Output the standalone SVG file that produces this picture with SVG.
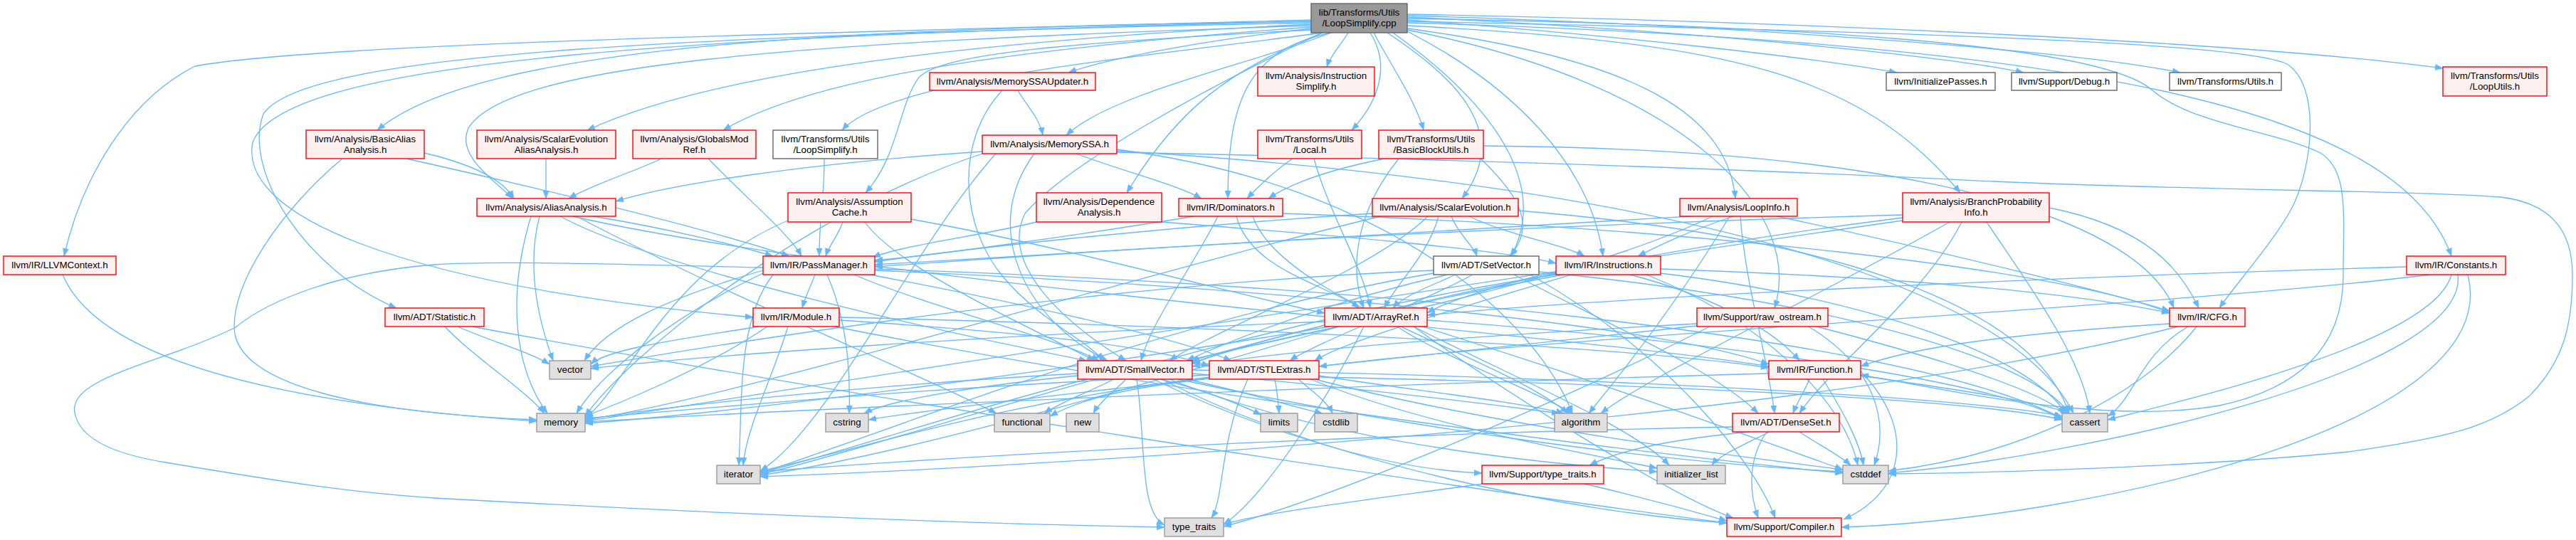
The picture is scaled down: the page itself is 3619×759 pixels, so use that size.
<svg xmlns="http://www.w3.org/2000/svg" width="3619" height="759" viewBox="0 0 3619 759">
<style>
.e path{fill:none;stroke:#63B8FF;stroke-width:1.3;marker-end:url(#a)}
.n rect{stroke-width:1.4}
.r rect{fill:#FFF0F0;stroke:#FF0000}
.w rect{fill:#FFFFFF;stroke:#666666}
.g rect{fill:#E0E0E0;stroke:#999999}
.root rect{fill:#999999;stroke:#666666}
text{font-family:"Liberation Sans",Arial,sans-serif;font-size:13.33px;text-anchor:middle;fill:#000000}
</style>
<defs>
<marker id="a" markerUnits="userSpaceOnUse" markerWidth="12" markerHeight="9" refX="11" refY="4.5" orient="auto"><path d="M0,0.3 L11,4.5 L0,8.7 z" fill="#63B8FF" stroke="#63B8FF" stroke-width="0.5"/></marker>
</defs>
<rect width="3619" height="759" fill="#FFFFFF"/>
<g id="edges" class="e">
<path d="M1842,40 C1706,55 1563,80 1501,102"/>
<path d="M1894,46 C1885,62 1870,76 1864,94"/>
<path d="M1977,28 C2275,50 2538,80 2665,102"/>
<path d="M1977,24 C2325,40 2713,75 2843,102"/>
<path d="M1977,22 C2425,35 2910,70 3063,102"/>
<path d="M1977,20 C2525,30 3167,60 3432,96"/>
<path d="M1842,30 C1206,40 675,60 530,183"/>
<path d="M1842,34 C1306,60 982,110 825,183"/>
<path d="M1842,38 C1406,70 1139,110 1016,183"/>
<path d="M1858,46 C1608,80 1248,110 1183,183"/>
<path d="M1870,46 C1760,90 1563,130 1498,190"/>
<path d="M1925,46 C1953,90 1939,140 1899,183"/>
<path d="M1930,46 C1953,90 1988,140 2000,183"/>
<path d="M1842,36 C1106,60 715,90 658,180 C640,220 697,255 720,279"/>
<path d="M1842,42 C1500,60 1320,75 1290,110 C1262,150 1262,220 1216,271"/>
<path d="M1858,46 C1720,100 1650,160 1583,271"/>
<path d="M1870,46 C1760,70 1725,130 1725,279"/>
<path d="M1949,46 C2030,100 2130,180 2054,279"/>
<path d="M1977,40 C2275,80 2426,150 2438,279"/>
<path d="M1977,36 C2425,60 2611,100 2754,271"/>
<path d="M1842,28 C1206,45 450,60 274,93 C180,140 115,250 90,360"/>
<path d="M1957,46 C2102,150 2176,260 2123,360"/>
<path d="M1977,44 C2125,120 2234,230 2252,360"/>
<path d="M1977,32 C2925,60 3369,150 3444,360"/>
<path d="M1842,32 C1006,50 430,70 370,160 C340,240 430,380 557,433"/>
<path d="M1842,30 C1006,50 400,80 355,200 C335,300 550,400 1058,446"/>
<path d="M1977,42 C2375,120 2535,300 2493,433"/>
<path d="M1977,30 C2700,45 3150,60 3213,90 C3260,120 3250,230 3221,290 C3195,340 3140,400 3118,433"/>
<path d="M1858,46 C1700,120 1500,230 1440,300 C1400,380 1520,470 1582,507"/>
<path d="M1977,26 C2500,35 2950,60 3024,127 C3080,175 3200,185 3260,215 C3300,240 3292,300 3292,387 C3292,460 3260,540 3118,570 C2950,600 2700,540 2614,527"/>
<path d="M1158,223 C1158,285 1151,298 1151,360"/>
<path d="M596,215 C660,230 705,250 722,279"/>
<path d="M571,223 C781,270 989,320 1109,360"/>
<path d="M481,223 C400,290 320,400 330,470 C345,540 500,580 754,590"/>
<path d="M767,223 C767,250 767,252 767,279"/>
<path d="M929,223 C895,240 830,260 799,279"/>
<path d="M995,223 C1050,280 1110,330 1126,360"/>
<path d="M787,304 C927,380 1340,470 1527,507"/>
<path d="M804,304 C1229,400 2212,470 2485,515"/>
<path d="M833,304 C933,320 1036,345 1086,360"/>
<path d="M810,304 C1030,420 1280,520 1400,581"/>
<path d="M746,304 C711,420 724,520 769,581"/>
<path d="M758,304 C738,380 760,460 777,507"/>
<path d="M1280,308 C1512,350 1758,420 1861,440"/>
<path d="M1215,312 C1263,380 1468,470 1538,507"/>
<path d="M1184,312 C1178,330 1165,345 1160,360"/>
<path d="M1107,310 C938,380 882,540 822,588"/>
<path d="M1430,127 C1443,150 1460,165 1465,190"/>
<path d="M1408,127 C1340,200 1350,320 1410,390 C1460,450 1530,480 1550,507"/>
<path d="M1380,213 C1126,230 938,260 865,283"/>
<path d="M1380,216 C1126,300 882,500 822,585"/>
<path d="M1399,216 C1279,350 1167,600 1068,662"/>
<path d="M1453,216 C1376,320 1440,450 1556,507"/>
<path d="M1512,216 C1575,240 1655,260 1688,279"/>
<path d="M1569,210 C1953,260 2159,450 2209,581"/>
<path d="M1569,212 C2353,260 2823,400 2913,581"/>
<path d="M1569,214 C2100,225 2500,240 2800,255 C3100,268 3400,268 3513,277 C3580,285 3614,320 3614,387 C3614,460 3600,510 3553,557 C3500,600 3440,615 3300,635 C3100,655 2800,665 2653,666"/>
<path d="M1456,312 C1387,330 1264,345 1226,362"/>
<path d="M1632,312 C1862,330 2105,350 2186,370"/>
<path d="M1678,304 C1518,330 1304,360 1229,366"/>
<path d="M1711,304 C1673,380 1618,450 1603,507"/>
<path d="M1737,304 C1757,380 1865,400 1910,433"/>
<path d="M1760,304 C1800,420 2108,500 2203,581"/>
<path d="M1802,300 C2386,320 2908,380 3048,440"/>
<path d="M1928,300 C1618,320 1354,350 1229,368"/>
<path d="M1940,304 C1620,380 1032,560 822,590"/>
<path d="M2006,304 C1929,380 1713,460 1643,507"/>
<path d="M2021,304 C2006,360 1960,400 1945,433"/>
<path d="M2039,304 C2049,330 2070,345 2075,360"/>
<path d="M2064,304 C2117,330 2201,345 2226,360"/>
<path d="M2133,296 C2547,330 2852,420 2907,581"/>
<path d="M2377,304 C1897,330 1404,360 1229,372"/>
<path d="M2406,304 C2206,400 1817,470 1667,507"/>
<path d="M2435,304 C2360,330 2331,345 2301,360"/>
<path d="M2445,304 C2452,400 2483,500 2493,581"/>
<path d="M2496,304 C2714,350 2958,410 3048,437"/>
<path d="M2430,304 C2360,420 2282,520 2232,581"/>
<path d="M2673,302 C2039,320 1504,355 1229,375"/>
<path d="M2756,312 C2701,420 2568,520 2528,581"/>
<path d="M2739,312 C2549,420 2314,530 2249,581"/>
<path d="M2673,306 C2239,360 1820,460 1675,510"/>
<path d="M2879,292 C3019,320 3064,380 3089,433"/>
<path d="M2791,312 C2836,380 2926,500 2936,581"/>
<path d="M2673,310 C2039,400 1032,560 822,592"/>
<path d="M1846,223 C1867,300 1917,380 1925,433"/>
<path d="M1816,223 C1790,240 1770,260 1752,279"/>
<path d="M1945,223 C1860,240 1810,260 1782,279"/>
<path d="M1965,223 C1903,300 1896,380 1916,433"/>
<path d="M2080,223 C2140,280 2156,320 2121,360"/>
<path d="M2084,205 C2741,210 3009,320 3054,433"/>
<path d="M1145,386 C1140,400 1132,415 1127,433"/>
<path d="M1162,386 C1190,450 1195,520 1193,581"/>
<path d="M1072,380 C934,420 851,460 821,507"/>
<path d="M1072,384 C934,450 840,530 810,581"/>
<path d="M1086,386 C1036,450 1043,560 1038,654"/>
<path d="M1200,386 C1300,430 1499,480 1544,507"/>
<path d="M1222,386 C1402,420 1640,470 1730,507"/>
<path d="M1229,380 C1704,400 2312,450 2485,512"/>
<path d="M1229,378 C1904,400 2671,470 2897,588"/>
<path d="M1072,376 C880,372 700,366 610,372 C480,382 380,420 331,460 C230,510 95,530 105,580 C112,620 170,640 233,650 C400,678 500,693 610,700 C900,716 1300,735 1636,741"/>
<path d="M1066,459 C966,475 853,490 830,512"/>
<path d="M1078,459 C988,520 862,570 822,585"/>
<path d="M1107,459 C1082,540 1049,600 1044,654"/>
<path d="M1179,450 C1483,470 1635,490 1699,515"/>
<path d="M1179,446 C1783,460 2312,490 2485,517"/>
<path d="M1172,459 C1682,560 2327,640 2589,665"/>
<path d="M2045,386 C2015,400 1972,415 1957,433"/>
<path d="M2127,386 C2247,450 2410,520 2470,581"/>
<path d="M2069,386 C1989,430 1852,480 1812,507"/>
<path d="M2034,386 C1884,420 1747,470 1667,507"/>
<path d="M2150,386 C2350,500 2464,650 2494,728"/>
<path d="M2162,382 C2552,420 2852,500 2907,581"/>
<path d="M2014,384 C1631,450 1267,600 1068,665"/>
<path d="M2014,380 C1531,400 1033,480 830,515"/>
<path d="M2186,382 C2105,400 2029,425 2005,440"/>
<path d="M2208,386 C2058,430 1887,480 1847,507"/>
<path d="M2196,386 C1956,430 1768,480 1673,507"/>
<path d="M2333,378 C2676,390 2908,410 3048,440"/>
<path d="M2290,386 C2420,420 2498,470 2528,507"/>
<path d="M2333,384 C2626,420 2852,500 2902,581"/>
<path d="M2313,386 C2473,450 2590,560 2610,654"/>
<path d="M2186,386 C1755,450 1267,620 1068,667"/>
<path d="M3381,375 C2859,390 2229,420 2005,443"/>
<path d="M3414,386 C3064,430 2208,470 1853,515"/>
<path d="M3444,386 C3419,480 3080,560 2961,590"/>
<path d="M3453,386 C3470,520 2936,640 2653,665"/>
<path d="M3467,386 C3522,600 2927,730 2587,741"/>
<path d="M625,459 C663,500 740,550 765,581"/>
<path d="M643,459 C690,480 745,495 772,512"/>
<path d="M663,459 C1208,560 2004,680 2426,735"/>
<path d="M1881,459 C1761,485 1708,495 1675,512"/>
<path d="M1861,452 C1408,470 983,500 830,518"/>
<path d="M1869,459 C1509,520 1032,580 822,595"/>
<path d="M1881,459 C1611,540 1267,640 1068,668"/>
<path d="M1986,459 C2126,560 2355,700 2435,728"/>
<path d="M1963,459 C2023,500 2159,550 2209,581"/>
<path d="M2005,450 C2429,480 2821,540 2897,590"/>
<path d="M1998,459 C2228,530 2477,620 2589,660"/>
<path d="M1986,459 C2126,530 2295,600 2345,654"/>
<path d="M1916,459 C1866,560 1775,700 1719,737"/>
<path d="M2384,455 C2102,470 1818,490 1675,515"/>
<path d="M2552,459 C2672,490 2852,540 2902,581"/>
<path d="M2541,459 C2641,520 2653,600 2633,654"/>
<path d="M2384,458 C2002,500 1403,560 1220,590"/>
<path d="M2402,459 C2202,560 1875,700 1719,740"/>
<path d="M3048,455 C2808,470 2681,490 2614,515"/>
<path d="M3074,459 C3004,500 3000,560 2961,585"/>
<path d="M3086,459 C3006,560 2836,640 2653,662"/>
<path d="M3060,459 C2510,600 1367,660 1068,670"/>
<path d="M88,386 C123,470 272,560 754,592"/>
<path d="M1565,533 C1532,550 1490,565 1467,581"/>
<path d="M1582,533 C1565,550 1545,565 1536,581"/>
<path d="M1630,533 C1700,550 1745,570 1772,583"/>
<path d="M1514,528 C1395,540 1254,560 1214,581"/>
<path d="M1514,525 C1245,540 932,570 822,590"/>
<path d="M1527,533 C1347,580 1167,640 1068,665"/>
<path d="M1632,533 C1862,650 2204,720 2426,735"/>
<path d="M1620,533 C1760,600 1940,660 2082,665"/>
<path d="M1675,525 C1918,545 2106,570 2191,581"/>
<path d="M1675,520 C2268,530 2771,560 2897,585"/>
<path d="M1655,533 C1965,600 2327,650 2589,663"/>
<path d="M1667,533 C1767,555 1808,570 1858,581"/>
<path d="M1643,533 C1863,620 2143,650 2328,663"/>
<path d="M1597,533 C1610,620 1600,720 1636,738"/>
<path d="M1791,533 C1794,550 1796,565 1797,581"/>
<path d="M1824,533 C1844,550 1865,565 1872,581"/>
<path d="M1853,528 C1958,545 2137,565 2197,581"/>
<path d="M1853,530 C2308,540 2771,560 2897,590"/>
<path d="M1847,533 C2107,600 2427,640 2589,660"/>
<path d="M1841,533 C2006,600 2243,640 2328,658"/>
<path d="M1699,530 C1385,570 1217,630 1068,662"/>
<path d="M1699,527 C1285,545 982,575 822,588"/>
<path d="M1699,532 C1585,545 1520,560 1475,585"/>
<path d="M1753,533 C1713,620 1720,700 1702,728"/>
<path d="M2542,533 C2535,550 2525,565 2519,581"/>
<path d="M2614,522 C2690,600 2680,690 2590,730"/>
<path d="M2614,528 C2731,545 2871,565 2906,581"/>
<path d="M2561,533 C2590,580 2612,620 2618,654"/>
<path d="M2485,525 C1912,540 1132,575 822,593"/>
<path d="M2482,607 C2452,650 2460,700 2470,728"/>
<path d="M2458,607 C2320,620 2260,640 2233,654"/>
<path d="M2528,607 C2555,625 2585,640 2600,654"/>
<path d="M2486,607 C2450,625 2415,640 2405,654"/>
<path d="M2434,600 C1905,610 1367,640 1068,663"/>
<path d="M2083,680 C1940,700 1775,720 1719,737"/>
<path d="M2226,680 C2311,700 2384,720 2426,732"/>
</g>
<g id="n_root" class="n root"><rect x="1842" y="5" width="135" height="41"/><text x="1909.5" y="22">lib/Transforms/Utils</text><text x="1909.5" y="37">/LoopSimplify.cpp</text></g>
<g id="n_msu" class="n r"><rect x="1306" y="102" width="233" height="25"/><text x="1422.5" y="119">llvm/Analysis/MemorySSAUpdater.h</text></g>
<g id="n_isimp" class="n r"><rect x="1767" y="94" width="164" height="41"/><text x="1849" y="111">llvm/Analysis/Instruction</text><text x="1849" y="126">Simplify.h</text></g>
<g id="n_initp" class="n w"><rect x="2650" y="102" width="153" height="25"/><text x="2726.5" y="119">llvm/InitializePasses.h</text></g>
<g id="n_debug" class="n w"><rect x="2826" y="102" width="148" height="25"/><text x="2900" y="119">llvm/Support/Debug.h</text></g>
<g id="n_tutils" class="n w"><rect x="3048" y="102" width="157" height="25"/><text x="3126.5" y="119">llvm/Transforms/Utils.h</text></g>
<g id="n_lutils" class="n r"><rect x="3432" y="94" width="146" height="41"/><text x="3505" y="111">llvm/Transforms/Utils</text><text x="3505" y="126">/LoopUtils.h</text></g>
<g id="n_baa" class="n r"><rect x="430" y="183" width="166" height="40"/><text x="513" y="200">llvm/Analysis/BasicAlias</text><text x="513" y="215">Analysis.h</text></g>
<g id="n_seaa" class="n r"><rect x="670" y="183" width="195" height="40"/><text x="767.5" y="200">llvm/Analysis/ScalarEvolution</text><text x="767.5" y="215">AliasAnalysis.h</text></g>
<g id="n_gmr" class="n r"><rect x="889" y="183" width="173" height="40"/><text x="975.5" y="200">llvm/Analysis/GlobalsMod</text><text x="975.5" y="215">Ref.h</text></g>
<g id="n_lsh" class="n w"><rect x="1086" y="183" width="147" height="40"/><text x="1159.5" y="200">llvm/Transforms/Utils</text><text x="1159.5" y="215">/LoopSimplify.h</text></g>
<g id="n_mssa" class="n r"><rect x="1380" y="190" width="189" height="26"/><text x="1474.5" y="207">llvm/Analysis/MemorySSA.h</text></g>
<g id="n_local" class="n r"><rect x="1767" y="183" width="146" height="40"/><text x="1840" y="200">llvm/Transforms/Utils</text><text x="1840" y="215">/Local.h</text></g>
<g id="n_bbu" class="n r"><rect x="1937" y="183" width="147" height="40"/><text x="2010.5" y="200">llvm/Transforms/Utils</text><text x="2010.5" y="215">/BasicBlockUtils.h</text></g>
<g id="n_aa" class="n r"><rect x="670" y="279" width="195" height="25"/><text x="767.5" y="296">llvm/Analysis/AliasAnalysis.h</text></g>
<g id="n_ac" class="n r"><rect x="1107" y="271" width="173" height="41"/><text x="1193.5" y="288">llvm/Analysis/Assumption</text><text x="1193.5" y="303">Cache.h</text></g>
<g id="n_da" class="n r"><rect x="1456" y="271" width="176" height="41"/><text x="1544" y="288">llvm/Analysis/Dependence</text><text x="1544" y="303">Analysis.h</text></g>
<g id="n_dom" class="n r"><rect x="1656" y="279" width="146" height="25"/><text x="1729" y="296">llvm/IR/Dominators.h</text></g>
<g id="n_se" class="n r"><rect x="1928" y="279" width="205" height="25"/><text x="2030.5" y="296">llvm/Analysis/ScalarEvolution.h</text></g>
<g id="n_li" class="n r"><rect x="2360" y="279" width="165" height="25"/><text x="2442.5" y="296">llvm/Analysis/LoopInfo.h</text></g>
<g id="n_bpi" class="n r"><rect x="2673" y="271" width="206" height="41"/><text x="2776" y="288">llvm/Analysis/BranchProbability</text><text x="2776" y="303">Info.h</text></g>
<g id="n_llvmctx" class="n r"><rect x="5" y="360" width="158" height="26"/><text x="84" y="377">llvm/IR/LLVMContext.h</text></g>
<g id="n_pm" class="n r"><rect x="1072" y="360" width="157" height="26"/><text x="1150.5" y="377">llvm/IR/PassManager.h</text></g>
<g id="n_sv" class="n w"><rect x="2014" y="360" width="148" height="26"/><text x="2088" y="377">llvm/ADT/SetVector.h</text></g>
<g id="n_instr" class="n r"><rect x="2186" y="360" width="147" height="26"/><text x="2259.5" y="377">llvm/IR/Instructions.h</text></g>
<g id="n_const" class="n r"><rect x="3381" y="360" width="139" height="26"/><text x="3450.5" y="377">llvm/IR/Constants.h</text></g>
<g id="n_stat" class="n r"><rect x="541" y="433" width="139" height="26"/><text x="610.5" y="450">llvm/ADT/Statistic.h</text></g>
<g id="n_mod" class="n r"><rect x="1058" y="433" width="121" height="26"/><text x="1118.5" y="450">llvm/IR/Module.h</text></g>
<g id="n_aref" class="n r"><rect x="1861" y="433" width="144" height="26"/><text x="1933" y="450">llvm/ADT/ArrayRef.h</text></g>
<g id="n_ros" class="n r"><rect x="2384" y="433" width="184" height="26"/><text x="2476" y="450">llvm/Support/raw_ostream.h</text></g>
<g id="n_cfg" class="n r"><rect x="3048" y="433" width="106" height="26"/><text x="3101" y="450">llvm/IR/CFG.h</text></g>
<g id="n_vector" class="n g"><rect x="772" y="507" width="58" height="26"/><text x="801" y="524">vector</text></g>
<g id="n_smv" class="n r"><rect x="1514" y="507" width="161" height="26"/><text x="1594.5" y="524">llvm/ADT/SmallVector.h</text></g>
<g id="n_stl" class="n r"><rect x="1699" y="507" width="154" height="26"/><text x="1776" y="524">llvm/ADT/STLExtras.h</text></g>
<g id="n_func" class="n r"><rect x="2485" y="507" width="129" height="26"/><text x="2549.5" y="524">llvm/IR/Function.h</text></g>
<g id="n_memory" class="n g"><rect x="754" y="581" width="68" height="26"/><text x="788" y="598">memory</text></g>
<g id="n_cstring" class="n g"><rect x="1160" y="581" width="60" height="26"/><text x="1190" y="598">cstring</text></g>
<g id="n_functional" class="n g"><rect x="1397" y="581" width="78" height="26"/><text x="1436" y="598">functional</text></g>
<g id="n_new" class="n g"><rect x="1498" y="581" width="46" height="26"/><text x="1521" y="598">new</text></g>
<g id="n_limits" class="n g"><rect x="1771" y="581" width="52" height="26"/><text x="1797" y="598">limits</text></g>
<g id="n_cstdlib" class="n g"><rect x="1847" y="581" width="60" height="26"/><text x="1877" y="598">cstdlib</text></g>
<g id="n_algorithm" class="n g"><rect x="2184" y="581" width="74" height="26"/><text x="2221" y="598">algorithm</text></g>
<g id="n_dset" class="n r"><rect x="2434" y="581" width="150" height="26"/><text x="2509" y="598">llvm/ADT/DenseSet.h</text></g>
<g id="n_cassert" class="n g"><rect x="2897" y="581" width="64" height="26"/><text x="2929" y="598">cassert</text></g>
<g id="n_iterator" class="n g"><rect x="1007" y="654" width="61" height="26"/><text x="1037.5" y="671">iterator</text></g>
<g id="n_sttraits" class="n r"><rect x="2082" y="654" width="171" height="26"/><text x="2167.5" y="671">llvm/Support/type_traits.h</text></g>
<g id="n_initlist" class="n g"><rect x="2328" y="654" width="96" height="26"/><text x="2376" y="671">initializer_list</text></g>
<g id="n_cstddef" class="n g"><rect x="2589" y="654" width="64" height="26"/><text x="2621" y="671">cstddef</text></g>
<g id="n_typetraits" class="n g"><rect x="1636" y="728" width="83" height="26"/><text x="1677.5" y="745">type_traits</text></g>
<g id="n_compiler" class="n r"><rect x="2426" y="728" width="161" height="26"/><text x="2506.5" y="745">llvm/Support/Compiler.h</text></g>
</svg>
